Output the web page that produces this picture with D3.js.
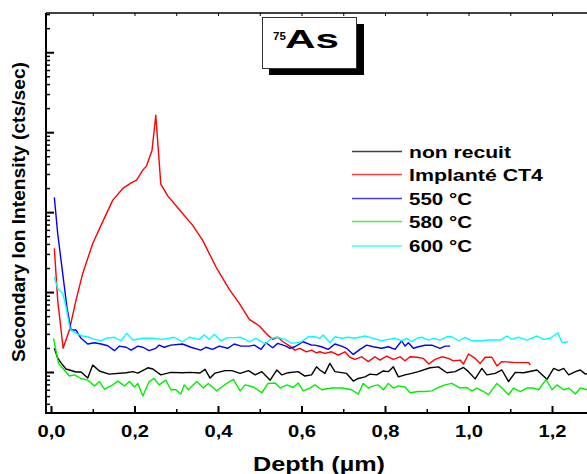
<!DOCTYPE html>
<html><head><meta charset="utf-8">
<script src="https://cdn.jsdelivr.net/npm/d3@7"></script>
<style>
html,body{margin:0;padding:0;background:#fff;}
svg{display:block;}
text{font-family:"Liberation Sans",Arial,Helvetica,sans-serif;font-weight:bold;fill:#000;}
</style></head>
<body>
<svg id="c" width="587" height="474"></svg>
<script>
// ---- data (depth in µm, intensity in cts/sec) ----
const seriesNames = ["non recuit", "Implanté CT4", "550 °C", "580 °C", "600 °C"];
const seriesColors = ["#000000", "#ff0000", "#0000ff", "#00f000", "#00ffff"];
const xTickLabels = ["0,0", "0,2", "0,4", "0,6", "0,8", "1,0", "1,2"];
const xTickValues = [0, 0.2, 0.4, 0.6, 0.8, 1.0, 1.2];

const blackDepth = [0.008,0.016,0.024,0.036,0.060,0.072,0.088,0.100,0.116,0.139,0.180,0.196,0.208,0.232,0.244,0.263,0.287,0.315,0.333,0.357,0.369,0.381,0.393,0.417,0.433,0.453,0.473,0.489,0.505,0.525,0.541,0.553,0.568,0.592,0.608,0.624,0.636,0.644,0.656,0.668,0.680,0.692,0.708,0.724,0.736,0.752,0.764,0.780,0.796,0.808,0.820,0.832,0.848,0.864,0.880,0.908,0.928,0.948,0.968,0.988,1.000,1.016,1.032,1.044,1.064,1.080,1.096,1.112,1.132,1.164,1.188,1.204,1.216,1.228,1.240,1.256,1.268,1.280,1.296];
const blackValues = [19.8,15.0,13.0,10.9,10.0,10.0,8.4,12.2,10.3,9.4,9.8,10.1,9.7,11.3,10.9,9.2,9.9,9.8,9.9,9.7,10.8,8.4,9.7,10.4,10.4,9.6,10.4,9.2,10.1,7.9,10.6,9.2,9.8,10.1,8.9,9.2,11.6,10.6,9.6,12.8,10.1,9.9,9.6,7.7,8.3,8.7,9.4,9.2,10.3,10.1,11.6,8.7,9.2,9.6,10.1,11.3,11.6,9.8,10.1,11.4,10.1,8.2,11.1,9.2,9.6,10.6,7.6,9.9,9.8,10.6,8.1,11.1,10.4,11.1,9.2,10.1,10.6,9.4,9.8];

const redDepth = [0.008,0.016,0.029,0.044,0.060,0.076,0.100,0.120,0.148,0.172,0.192,0.205,0.220,0.229,0.242,0.251,0.263,0.280,0.303,0.339,0.363,0.395,0.427,0.451,0.475,0.499,0.519,0.531,0.543,0.556,0.572,0.584,0.596,0.612,0.624,0.636,0.644,0.656,0.672,0.688,0.704,0.716,0.728,0.744,0.760,0.776,0.788,0.804,0.820,0.836,0.848,0.860,0.876,0.892,0.905,0.920,0.936,0.952,0.964,0.980,0.988,1.000,1.016,1.028,1.040,1.056,1.068,1.080,1.108,1.144,1.148];
const redValues = [352,79.4,19.8,33.5,79.4,171,406,688,1413,1978,2324,2512,3350,3793,5957,16310,2239,1585,1145,688,447,207,108,72.2,45.6,37.6,29.0,25.6,27.2,23.9,21.1,18.8,19.8,17.9,18.8,17.4,17.9,17.1,17.9,16.3,17.9,15.3,14.4,15.5,13.5,15.5,14.1,15.8,14.4,15.5,13.8,15.5,15.3,14.8,12.6,14.4,15.5,14.8,13.8,14.1,12.6,16.8,14.8,12.8,15.3,15.3,11.9,13.5,13.2,13.1,12.2];

const blueDepth = [0.008,0.016,0.028,0.038,0.048,0.060,0.072,0.088,0.104,0.120,0.136,0.152,0.164,0.180,0.192,0.208,0.220,0.235,0.251,0.259,0.271,0.287,0.315,0.335,0.359,0.371,0.387,0.403,0.423,0.439,0.455,0.475,0.487,0.503,0.515,0.531,0.543,0.563,0.572,0.584,0.604,0.624,0.632,0.648,0.664,0.680,0.696,0.708,0.724,0.740,0.756,0.772,0.792,0.808,0.824,0.840,0.848,0.856,0.868,0.880,0.896,0.912,0.932,0.944,0.956];
const blueValues = [1527,542,171,65.5,33.5,33.5,26.4,22.4,23.2,22.4,21.3,18.5,21.1,20.4,18.8,21.1,20.4,18.5,19.8,21.7,20.4,21.7,22.4,20.4,18.8,20.4,19.2,21.1,19.8,22.4,21.1,21.1,21.7,19.2,23.2,20.1,22.8,21.1,19.8,20.7,23.9,21.7,21.7,20.7,19.2,22.4,21.1,19.8,16.6,19.2,21.7,20.7,19.8,20.7,19.2,24.6,21.1,23.2,19.8,20.7,21.6,21.7,19.8,21.1,21.1];

const greenDepth = [0.006,0.018,0.032,0.044,0.056,0.072,0.088,0.104,0.116,0.128,0.148,0.160,0.176,0.188,0.200,0.208,0.220,0.235,0.247,0.259,0.275,0.287,0.299,0.311,0.319,0.329,0.349,0.365,0.377,0.397,0.409,0.421,0.437,0.453,0.465,0.485,0.505,0.520,0.537,0.549,0.565,0.580,0.592,0.604,0.620,0.632,0.648,0.672,0.696,0.720,0.736,0.748,0.760,0.772,0.784,0.796,0.808,0.820,0.832,0.848,0.860,0.880,0.896,0.912,0.928,0.944,0.960,0.980,0.996,1.008,1.020,1.036,1.048,1.068,1.080,1.096,1.108,1.124,1.140,1.156,1.168,1.186,1.200,1.212,1.228,1.240,1.256,1.268,1.284,1.296];
const greenValues = [26.4,12.8,10.6,8.9,9.2,8.3,7.9,6.7,7.6,6.1,6.9,7.7,6.7,7.6,6.5,7.2,5.0,7.6,8.3,6.9,7.9,6.0,6.0,5.3,6.9,6.0,7.6,6.3,7.2,5.8,6.5,7.2,8.1,5.8,6.9,6.5,5.5,7.2,7.3,6.3,6.9,6.4,7.3,5.8,6.3,6.9,6.0,6.3,6.3,6.0,5.3,7.2,6.3,6.7,6.9,6.0,7.2,6.3,6.7,6.5,5.5,5.7,5.7,5.8,6.4,6.9,7.2,6.3,6.4,5.8,6.3,5.7,5.2,7.2,6.3,5.2,6.3,5.7,6.3,6.3,6.0,8.1,6.0,6.9,6.0,6.3,5.3,6.3,6.0,6.2];

const cyanDepth = [0.008,0.016,0.028,0.036,0.046,0.060,0.076,0.088,0.104,0.120,0.132,0.152,0.168,0.181,0.196,0.220,0.244,0.268,0.295,0.315,0.331,0.355,0.367,0.379,0.391,0.407,0.423,0.439,0.455,0.475,0.491,0.513,0.529,0.541,0.560,0.577,0.600,0.616,0.632,0.644,0.652,0.668,0.680,0.696,0.712,0.728,0.752,0.772,0.792,0.808,0.824,0.840,0.852,0.864,0.876,0.888,0.904,0.916,0.932,0.948,0.960,0.977,0.992,1.008,1.028,1.052,1.076,1.092,1.104,1.120,1.140,1.164,1.180,1.196,1.214,1.224,1.238];
const cyanValues = [155,111,96.3,65.5,34.2,30.5,28.2,27.6,25.6,24.6,26.4,27.2,24.6,30.5,25.1,26.4,26.4,25.6,27.2,23.9,27.2,25.6,29.0,25.6,29.6,24.6,26.9,26.9,27.2,23.9,26.4,22.4,26.4,27.2,25.6,22.8,23.9,27.6,27.6,26.4,29.0,23.2,27.6,26.4,27.2,26.4,28.2,26.4,24.6,25.6,26.4,24.6,26.4,23.9,26.4,27.2,25.1,26.4,25.1,27.6,27.6,24.6,27.2,24.6,24.6,25.1,25.1,28.2,25.6,27.2,25.1,28.2,25.6,26.4,31.0,23.2,23.9];

const seriesDepths = [blackDepth, redDepth, blueDepth, greenDepth, cyanDepth];
const seriesValues = [blackValues, redValues, blueValues, greenValues, cyanValues];

// ---- layout ----
const svg = d3.select("#c");
const plotL = 46, plotT = 13, plotB = 413, plotR = 603;
const x = d3.scaleLinear().domain([0, 1]).range([51, 468.5]);
const y = d3.scaleLog().domain([3.07, 309800]).range([plotB, plotT]);

svg.append("defs").append("clipPath").attr("id","clip")
  .append("rect").attr("x", plotL).attr("y", plotT).attr("width", plotR - plotL).attr("height", plotB - plotT);

// data lines
const line = d3.line().x(d => x(d[0])).y(d => y(d[1]));
const order = [0, 3, 1, 2, 4];
const g = svg.append("g").attr("clip-path", "url(#clip)");
order.forEach(i => {
  const pts = seriesDepths[i].map((dp, k) => [dp, seriesValues[i][k]]);
  g.append("path").datum(pts).attr("d", line)
    .attr("fill", "none").attr("stroke", seriesColors[i])
    .attr("stroke-width", 1.4).attr("stroke-linejoin", "round");
});

// axes
const majorY = [10, 100, 1000, 10000, 100000];
const minorY = y.ticks().filter(v => majorY.indexOf(v) < 0);
const leftMinor = svg.append("g").attr("transform", `translate(${plotL},0)`)
  .call(d3.axisLeft(y).tickValues(minorY).tickSize(-4).tickFormat(""));
const leftMajor = svg.append("g").attr("transform", `translate(${plotL},0)`)
  .call(d3.axisLeft(y).tickValues(majorY).tickSize(-8).tickFormat(""));
leftMinor.selectAll(".tick line").attr("stroke-width", 1.5);
leftMajor.selectAll(".tick line").attr("stroke-width", 2);

const xMinor = [0.1, 0.3, 0.5, 0.7, 0.9, 1.1, 1.3];
const bottomMinor = svg.append("g").attr("transform", `translate(0,${plotB})`)
  .call(d3.axisBottom(x).tickValues(xMinor).tickSize(-4).tickFormat(""));
const bottomMajor = svg.append("g").attr("transform", `translate(0,${plotB})`)
  .call(d3.axisBottom(x).tickValues(xTickValues).tickSize(-7).tickFormat(""));
bottomMinor.selectAll(".tick line").attr("stroke-width", 1.5);
bottomMajor.selectAll(".tick line").attr("stroke-width", 2);
bottomMajor.selectAll(".tick").append("text")
  .attr("y", 24).attr("text-anchor", "middle")
  .attr("font-size", 16.5).attr("textLength", 28).attr("lengthAdjust", "spacingAndGlyphs")
  .style("font-family", '"Liberation Sans",Arial,sans-serif').style("font-weight", "bold").attr("fill", "#000")
  .text((d, i) => xTickLabels[i]);

const topTicks = [0.1,0.2,0.3,0.4,0.5,0.6,0.7,0.8,0.9,1.0,1.1,1.2,1.3];
const topAx = svg.append("g").attr("transform", `translate(0,${plotT})`)
  .call(d3.axisTop(x).tickValues(topTicks).tickSize(-3).tickFormat(""));
topAx.selectAll(".tick line").attr("stroke-width", 1);

[leftMinor, leftMajor, bottomMinor, bottomMajor, topAx].forEach(a => a.select(".domain").remove());

// frame lines
svg.append("line").attr("x1", plotL).attr("x2", plotR).attr("y1", plotT).attr("y2", plotT).attr("stroke", "#000").attr("stroke-width", 1.5);
svg.append("line").attr("x1", plotL).attr("x2", plotR).attr("y1", plotB).attr("y2", plotB).attr("stroke", "#000").attr("stroke-width", 2);
svg.append("line").attr("x1", plotL).attr("x2", plotL).attr("y1", plotT).attr("y2", plotB + 1).attr("stroke", "#000").attr("stroke-width", 2);

// axis titles
svg.append("text").attr("x", 319).attr("y", 471).attr("text-anchor", "middle")
  .attr("font-size", 21).attr("textLength", 132).attr("lengthAdjust", "spacingAndGlyphs")
  .text("Depth (µm)");
svg.append("text").attr("transform", "translate(25,212) rotate(-90)").attr("text-anchor", "middle")
  .attr("font-size", 18.5).attr("textLength", 300).attr("lengthAdjust", "spacingAndGlyphs")
  .text("Secondary Ion Intensity (cts/sec)");

// title box with shadow
svg.append("rect").attr("x", 269).attr("y", 24).attr("width", 95).attr("height", 51).attr("fill", "#000");
svg.append("rect").attr("x", 262.5).attr("y", 17.5).attr("width", 94).attr("height", 51)
  .attr("fill", "#fff").attr("stroke", "#333").attr("stroke-width", 1);
svg.append("text").attr("x", 273).attr("y", 39.5).attr("font-size", 11.5).text("75");
svg.append("text").attr("x", 285).attr("y", 48).attr("font-size", 26)
  .attr("textLength", 54).attr("lengthAdjust", "spacingAndGlyphs").text("As");

// legend
const legY = [151.5, 174.5, 198.5, 221.5, 246];
const legW = [102, 134, 63, 63, 63];
seriesNames.forEach((nm, i) => {
  svg.append("line").attr("x1", 352).attr("x2", 402).attr("y1", legY[i]).attr("y2", legY[i])
    .attr("stroke", seriesColors[i]).attr("stroke-width", 1.4).attr("opacity", 0.75);
  svg.append("text").attr("x", 409).attr("y", legY[i] + 6).attr("font-size", 16)
    .attr("textLength", legW[i]).attr("lengthAdjust", "spacingAndGlyphs").text(nm);
});
</script>
</body></html>
